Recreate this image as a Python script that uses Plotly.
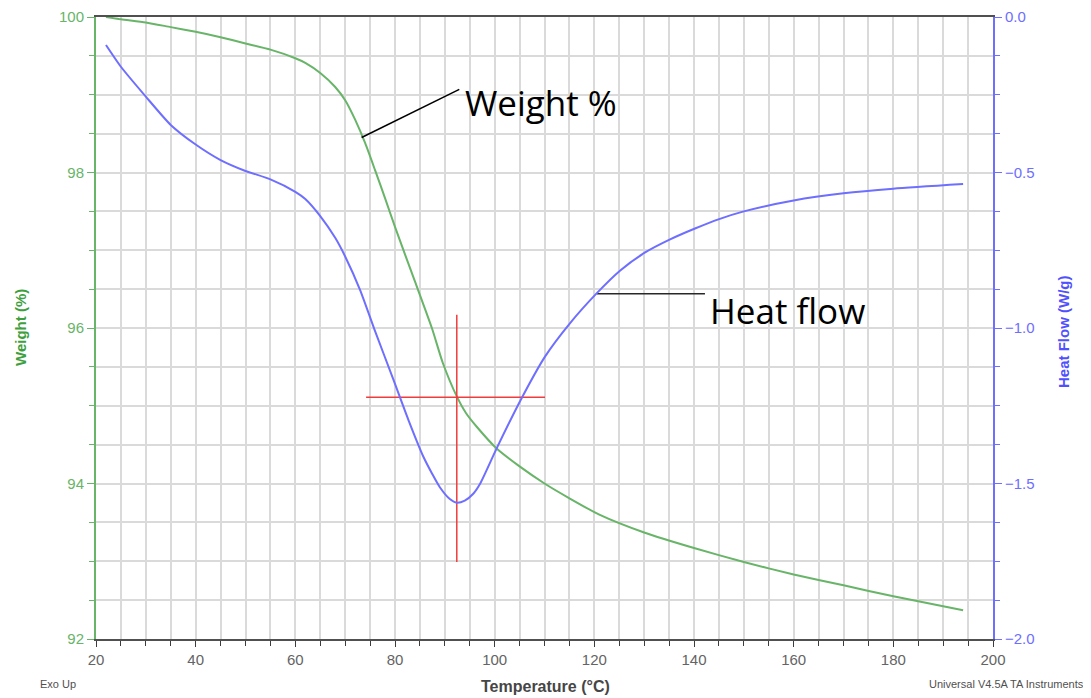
import plotly.graph_objects as go

# weight curve (TGA)
temp_w = [22, 25, 30, 35, 40, 45, 50, 55, 60, 62, 65, 68, 70, 72, 74, 76, 78, 80, 84, 87.4, 89.6, 92.4, 94.3, 96.4, 100.4, 105, 110, 115, 121, 130, 140, 150, 160, 170, 180, 194]
weight = [100.0, 99.97, 99.93, 99.87, 99.81, 99.74, 99.66, 99.58, 99.47, 99.41, 99.28, 99.1, 98.93, 98.68, 98.38, 98.03, 97.67, 97.3, 96.6, 96.0, 95.55, 95.12, 94.9, 94.73, 94.45, 94.22, 94.0, 93.81, 93.6, 93.37, 93.17, 92.99, 92.83, 92.69, 92.55, 92.37]

# heat flow curve (DSC)
temp_h = [22, 25, 30, 35, 40, 45, 50, 55, 60, 62, 65, 68, 70, 73, 76, 79.7, 82.7, 85.7, 87.5, 89, 91, 92.4, 94, 95.7, 97.1, 100.4, 105.3, 110.1, 115.1, 120.5, 125.2, 130.2, 135.2, 140.2, 145.2, 150, 160, 170, 180, 194]
heat_flow = [-0.09, -0.16, -0.256, -0.347, -0.41, -0.46, -0.495, -0.522, -0.562, -0.585, -0.64, -0.71, -0.77, -0.878, -1.01, -1.167, -1.296, -1.414, -1.47, -1.512, -1.55, -1.562, -1.555, -1.533, -1.5, -1.387, -1.229, -1.092, -0.985, -0.888, -0.815, -0.757, -0.715, -0.68, -0.649, -0.625, -0.59, -0.567, -0.552, -0.537]

# crosshair marking the peak
cross_t, cross_w = 92.4, 95.11
cross_t_span = [74.2, 110.1]
cross_w_span = [92.99, 96.17]

# callout leader lines (temperature, weight-axis value)
weight_lead_t, weight_lead_w = [73.3, 92.9], [98.45, 99.07]
heat_lead_t, heat_lead_w = [120.5, 142.2], [96.44, 96.44]

green = "rgb(104,180,104)"
blue = "rgb(110,110,255)"
grid = "rgb(218,218,218)"

fig = go.Figure()

fig.add_trace(go.Scatter(
    x=temp_w, y=weight, mode="lines", line=dict(color=green, width=2, shape="spline", smoothing=0.6),
    showlegend=False, hoverinfo="skip"
))
fig.add_trace(go.Scatter(
    x=temp_h, y=heat_flow, mode="lines", line=dict(color=blue, width=2, shape="spline", smoothing=0.6),
    yaxis="y2", showlegend=False, hoverinfo="skip"
))

# red crosshair
fig.add_trace(go.Scatter(
    x=cross_t_span, y=[cross_w, cross_w], mode="lines", line=dict(color="rgb(240,60,60)", width=1.5),
    showlegend=False, hoverinfo="skip"
))
fig.add_trace(go.Scatter(
    x=[cross_t, cross_t], y=cross_w_span, mode="lines", line=dict(color="rgb(240,60,60)", width=1.5),
    showlegend=False, hoverinfo="skip"
))

# callout leader lines
fig.add_trace(go.Scatter(
    x=weight_lead_t, y=weight_lead_w, mode="lines", line=dict(color="black", width=1.5),
    showlegend=False, hoverinfo="skip"
))
fig.add_trace(go.Scatter(
    x=heat_lead_t, y=heat_lead_w, mode="lines", line=dict(color="rgb(40,40,40)", width=1.5),
    showlegend=False, hoverinfo="skip"
))

# the page body adds an 8px offset, so the figure is sized to fit inside it
W, H = 1083, 690
L, T = 88, 9
PW, PH = 897, 622

fig.update_layout(
    width=W, height=H,
    paper_bgcolor="white", plot_bgcolor="white",
    margin=dict(l=L, r=W - L - PW, t=T, b=H - T - PH, autoexpand=False),
    font=dict(family="Liberation Sans, Arial", size=14, color="rgb(90,90,90)"),
    xaxis=dict(
        range=[20, 200], dtick=20, tick0=20, automargin=False,
        showgrid=True, gridcolor=grid, gridwidth=2,
        minor=dict(dtick=5, showgrid=True, gridcolor=grid, gridwidth=2, ticks="outside", ticklen=5, tickcolor="rgb(60,60,60)"),
        ticks="outside", ticklen=6, tickcolor="rgb(60,60,60)",
        showline=True, linecolor="rgb(80,80,80)", linewidth=2, mirror=True,
        zeroline=False,
        tickfont=dict(size=15, color="rgb(100,100,100)"),
    ),
    yaxis=dict(
        range=[92, 100], dtick=2, automargin=False,
        showgrid=True, gridcolor=grid, gridwidth=2,
        minor=dict(dtick=0.5, showgrid=True, gridcolor=grid, gridwidth=2, ticks="outside", ticklen=5, tickcolor=green),
        ticks="outside", ticklen=7, tickcolor=green,
        showline=True, linecolor=green, linewidth=2,
        zeroline=False,
        tickfont=dict(size=15, color=green),
    ),
    yaxis2=dict(
        range=[-2.0, 0.0], dtick=0.5, tickformat=".1f", automargin=False,
        overlaying="y", side="right",
        showgrid=False,
        minor=dict(dtick=0.125, ticks="outside", ticklen=5, tickcolor=blue),
        ticks="outside", ticklen=7, tickcolor=blue,
        showline=True, linecolor=blue, linewidth=2,
        zeroline=False,
        tickfont=dict(size=15, color=blue),
    ),
)


def px_x(px):
    # page pixel -> paper fraction
    return (px - 8 - L) / PW


def px_y(py):
    return 1 - (py - 8 - T) / PH


# axis titles
fig.add_annotation(x=px_x(20), y=px_y(328), xref="paper", yref="paper", text="<b>Weight (%)</b>",
                   textangle=-90, showarrow=False, xanchor="center", yanchor="middle",
                   font=dict(size=15, color="rgb(60,160,60)"))
fig.add_annotation(x=px_x(1063), y=px_y(332), xref="paper", yref="paper", text="<b>Heat Flow (W/g)</b>",
                   textangle=-90, showarrow=False, xanchor="center", yanchor="middle",
                   font=dict(size=15, color="rgb(80,80,255)"))
fig.add_annotation(x=px_x(545), y=px_y(687), xref="paper", yref="paper", text="<b>Temperature (°C)</b>",
                   showarrow=False, xanchor="center", yanchor="middle",
                   font=dict(size=16, color="rgb(70,70,70)"))

# callout labels
fig.add_annotation(x=px_x(463), y=px_y(103), xref="paper", yref="paper", text="Weight %",
                   showarrow=False, xanchor="left", yanchor="middle",
                   font=dict(family="Open Sans, Lato", size=35, color="black"))
fig.add_annotation(x=px_x(708), y=px_y(310), xref="paper", yref="paper", text="Heat flow",
                   showarrow=False, xanchor="left", yanchor="middle",
                   font=dict(family="Open Sans, Lato", size=35, color="black"))

fig.add_annotation(x=px_x(38), y=px_y(684), xref="paper", yref="paper", text="Exo Up", showarrow=False,
                   xanchor="left", yanchor="middle", font=dict(size=11, color="rgb(80,80,80)"))
fig.add_annotation(x=px_x(1086), y=px_y(684), xref="paper", yref="paper", text="Universal V4.5A TA Instruments",
                   showarrow=False, xanchor="right", yanchor="middle", font=dict(size=11, color="rgb(80,80,80)"))

fig.write_html("out.html")
